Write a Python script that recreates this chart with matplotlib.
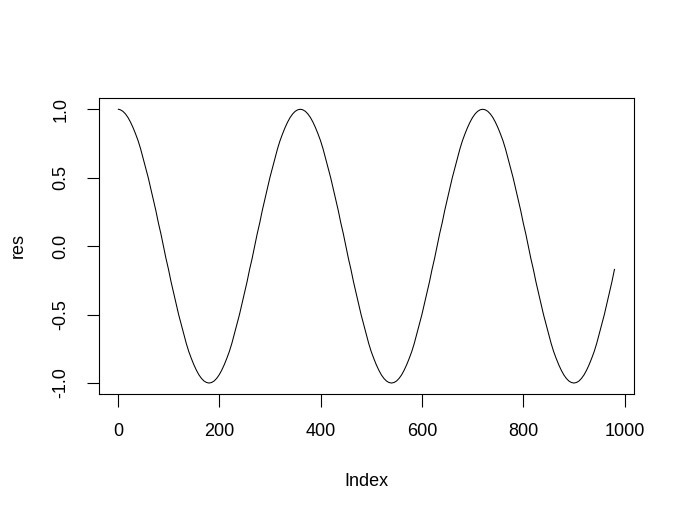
import matplotlib.pyplot as plt

# index positions and values (every 5 steps)
index = [1] + list(range(5, 981, 5))
res = [1.000,
       # 5 - 90
       0.996, 0.985, 0.966, 0.940, 0.906, 0.866, 0.82, 0.77, 0.71, 0.64, 0.57, 0.50, 0.42, 0.34, 0.26, 0.17, 0.09, 0.00,
       # 95 - 180
       -0.09, -0.17, -0.26, -0.34, -0.42, -0.50, -0.57, -0.64, -0.71, -0.77, -0.82, -0.866, -0.906, -0.940, -0.966, -0.985, -0.996, -1.000,
       # 185 - 270
       -0.996, -0.985, -0.966, -0.940, -0.906, -0.866, -0.82, -0.77, -0.71, -0.64, -0.57, -0.50, -0.42, -0.34, -0.26, -0.17, -0.09, 0.00,
       # 275 - 360
       0.09, 0.17, 0.26, 0.34, 0.42, 0.50, 0.57, 0.64, 0.71, 0.77, 0.82, 0.866, 0.906, 0.940, 0.966, 0.985, 0.996, 1.000,
       # 365 - 450
       0.996, 0.985, 0.966, 0.940, 0.906, 0.866, 0.82, 0.77, 0.71, 0.64, 0.57, 0.50, 0.42, 0.34, 0.26, 0.17, 0.09, 0.00,
       # 455 - 540
       -0.09, -0.17, -0.26, -0.34, -0.42, -0.50, -0.57, -0.64, -0.71, -0.77, -0.82, -0.866, -0.906, -0.940, -0.966, -0.985, -0.996, -1.000,
       # 545 - 630
       -0.996, -0.985, -0.966, -0.940, -0.906, -0.866, -0.82, -0.77, -0.71, -0.64, -0.57, -0.50, -0.42, -0.34, -0.26, -0.17, -0.09, 0.00,
       # 635 - 720
       0.09, 0.17, 0.26, 0.34, 0.42, 0.50, 0.57, 0.64, 0.71, 0.77, 0.82, 0.866, 0.906, 0.940, 0.966, 0.985, 0.996, 1.000,
       # 725 - 810
       0.996, 0.985, 0.966, 0.940, 0.906, 0.866, 0.82, 0.77, 0.71, 0.64, 0.57, 0.50, 0.42, 0.34, 0.26, 0.17, 0.09, 0.00,
       # 815 - 900
       -0.09, -0.17, -0.26, -0.34, -0.42, -0.50, -0.57, -0.64, -0.71, -0.77, -0.82, -0.866, -0.906, -0.940, -0.966, -0.985, -0.996, -1.000,
       # 905 - 980
       -0.996, -0.985, -0.966, -0.940, -0.906, -0.866, -0.82, -0.77, -0.71, -0.64, -0.57, -0.50, -0.42, -0.34, -0.26, -0.17]

xticks = [0, 200, 400, 600, 800, 1000]
yticks = [-1.0, -0.5, 0.0, 0.5, 1.0]

plt.rcParams['font.family'] = ['Liberation Sans', 'DejaVu Sans']
fs = 13

fig = plt.figure(figsize=(6.85, 5.17), dpi=100)
ax = fig.add_axes([98.5 / 685, 1 - 394 / 517, (634.3 - 98.5) / 685, (394 - 98.3) / 517])

ax.plot(index, res, color='black', lw=0.75)

# R style 4% padding
xr = max(index) - min(index)
ax.set_xlim(min(index) - 0.04 * xr, max(index) + 0.04 * xr)
ax.set_ylim(-1.08, 1.08)

ax.set_xticks(xticks)
ax.set_xticklabels([str(t) for t in xticks])
ax.set_yticks(yticks)
ax.set_yticklabels(['%.1f' % t for t in yticks], rotation=90, va='center')

ax.tick_params(length=9, width=0.8, pad=12, labelsize=fs, direction='out', color='black')
for s in ax.spines.values():
    s.set_linewidth(0.8)

fig.text((98.5 + 634.3) / 2 / 685, 1 - 486 / 517, 'Index', ha='center', va='baseline', fontsize=fs)
fig.text(22.5 / 685, 1 - 246 / 517, 'res', rotation=90, rotation_mode='anchor',
         ha='center', va='baseline', fontsize=fs)

fig.savefig('out.png', dpi=100)
